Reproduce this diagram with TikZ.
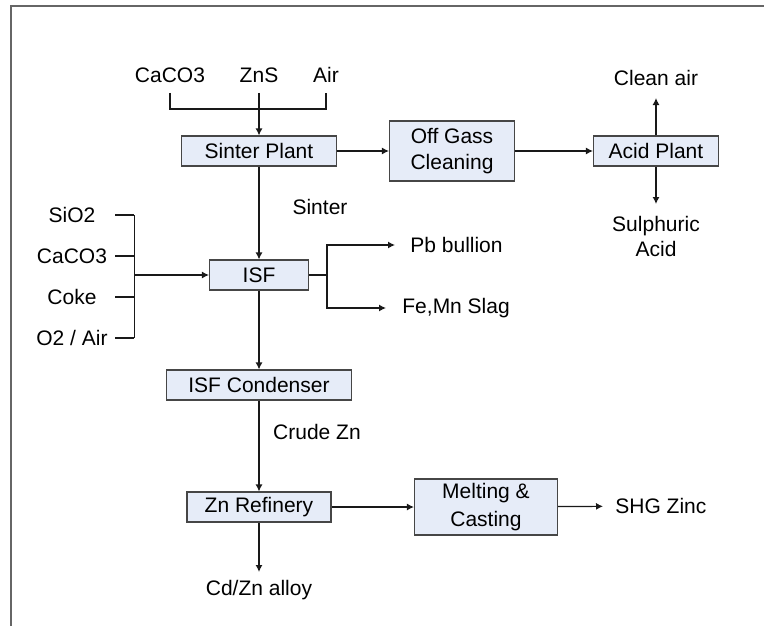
\documentclass[tikz,border=0pt]{standalone}
\usepackage{fontspec}
\setmainfont{Liberation Sans}
\usetikzlibrary{arrows.meta}

\definecolor{unitfill}{RGB}{230,236,248}
\definecolor{unitline}{RGB}{70,70,70}
\definecolor{flowline}{RGB}{25,25,25}

\tikzset{
  unit/.style={draw=unitline, fill=unitfill, line width=0.55pt, inner sep=0pt,
    minimum height=15pt, align=center},
  feed/.style={inner sep=5pt},
  prod/.style={inner sep=6pt, align=center},
  stream/.style={inner sep=0pt},
  flow/.style={draw=flowline, line width=0.6pt},
  arr/.style={flow, -{Latex[length=3.5pt,width=3.5pt]}}
}

\begin{document}
\begin{tikzpicture}[x=0.5pt, y=-0.5pt, font=\fontsize{10.5}{12.5}\selectfont]
    \useasboundingbox (0,0) rectangle (764,626);
    \draw[line width=1pt, black!60] (11,626) -- (11,6) -- (764,6);

    % process units
    \node[unit, minimum width=77.5pt] (sinter) at (259,151) {Sinter Plant};
    \node[unit, minimum width=62.5pt, minimum height=30pt,
      font=\fontsize{10.5}{13}\selectfont] (offgas) at (452,151) {Off Gass\\Cleaning};
    \node[unit, minimum width=62.5pt] (acid) at (656,151) {Acid Plant};
    \node[unit, minimum width=49.5pt] (isf) at (259,275) {ISF};
    \node[unit, minimum width=92.5pt] (condenser) at (259,385) {ISF Condenser};
    \node[unit, minimum width=72pt] (refinery) at (259,507) {Zn Refinery};
    \node[unit, minimum width=71.5pt, minimum height=28pt,
      font=\fontsize{10.5}{14}\selectfont] (casting) at (486,507) {Melting \&\\Casting};

    % sinter feed
    \node[feed, anchor=south] (caco3top) at (170,93) {CaCO3};
    \node[feed, anchor=south] (zns) at (259,93) {ZnS};
    \node[feed, anchor=south] (airtop) at (326,93) {Air};
    \draw[flow] (caco3top.south) -- ++(0,16) -| (airtop.south);
    \draw[arr] (zns.south) -- (sinter.north);

    % gas line
    \draw[arr] (sinter) -- (offgas);
    \draw[arr] (offgas) -- (acid);
    \node[prod, anchor=south] (cleanair) at (656,98) {Clean air};
    \node[prod, anchor=north] (sulphuric) at (656,204) {Sulphuric\\Acid};
    \draw[arr] (acid) -- (cleanair);
    \draw[arr] (acid) -- (sulphuric);

    % furnace feed
    \draw[arr] (sinter) -- (isf);
    \node[stream] (sinterlbl) at (320,207) {Sinter};
    \foreach \name/\txt/\yy in {sio2/SiO2/215, caco3/CaCO3/256, coke/Coke/297, o2air/{O2 / Air}/338}
        \node[stream, minimum width=43pt] (\name) at (72,\yy) {\txt};
    \draw[flow] (sio2.east) -- ++(19,0) coordinate (mixtop);
    \draw[flow] (o2air.east) -- ++(19,0) coordinate (mixbot);
    \draw[flow] (caco3.east) -- ++(19,0);
    \draw[flow] (coke.east) -- ++(19,0);
    \draw[flow] (mixtop) -- (mixbot);
    \draw[arr] (mixtop |- isf) -- (isf.west);

    % furnace products
    \node[prod, anchor=west, inner xsep=7.5pt] (pb) at (395,245) {Pb bullion};
    \node[prod, anchor=west, inner xsep=8pt] (slag) at (386,308) {Fe,Mn Slag};
    \draw[flow] (isf.east) -- ++(18,0) coordinate (split);
    \draw[arr] (split) |- (pb.west);
    \draw[arr] (split) |- (slag.west);

    % zinc line
    \draw[arr] (isf) -- (condenser);
    \draw[arr] (condenser) -- (refinery);
    \node[stream] (crude) at (317,432) {Crude Zn};
    \node[prod, anchor=north, inner ysep=4pt] (cdzn) at (259,572) {Cd/Zn alloy};
    \draw[arr] (refinery) -- (cdzn);
    \draw[arr] (refinery) -- (casting);
    \node[prod, anchor=west] (shg) at (603,506) {SHG Zinc};
    \draw[arr] (casting) -- (shg);
\end{tikzpicture}
\end{document}
